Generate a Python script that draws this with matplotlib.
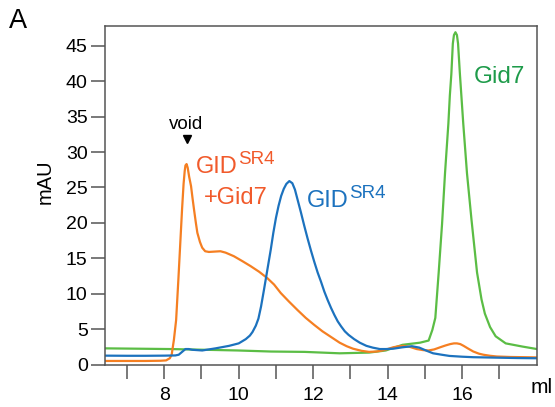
import matplotlib
matplotlib.use("Agg")
import matplotlib.pyplot as plt

plt.rcParams['font.family'] = ['Liberation Sans', 'DejaVu Sans']

# ---- data ----
orange_x = [6.41, 7.0, 7.5, 7.9, 8.05, 8.15, 8.2, 8.26, 8.32, 8.38, 8.43, 8.48, 8.52, 8.55, 8.57,
            8.6, 8.63, 8.67, 8.72, 8.76, 8.8, 8.85, 8.89, 8.96, 9.02, 9.1, 9.2, 9.35, 9.51, 9.65,
            9.87, 10.1, 10.32, 10.55, 10.77, 10.95, 11.13, 11.35, 11.58, 11.8, 12.03, 12.25, 12.48,
            12.71, 12.9, 13.07, 13.3, 13.5, 13.7, 13.86, 14.0, 14.15, 14.3, 14.42, 14.6, 14.78,
            14.95, 15.1, 15.25, 15.41, 15.55, 15.68, 15.78, 15.86, 15.95, 16.04, 16.15, 16.3,
            16.45, 16.57, 16.75, 16.93, 17.3, 17.7, 18.01]
orange_y = [0.52, 0.52, 0.52, 0.55, 0.6, 0.9, 1.4, 3.5, 6.3, 12.0, 17.0, 22.0, 25.5, 27.3, 28.1,
            28.3, 27.8, 26.5, 25.2, 23.5, 21.9, 20.0, 18.6, 17.3, 16.5, 16.0, 15.9, 15.95, 16.0, 15.8,
            15.3, 14.6, 13.9, 13.1, 12.2, 11.3, 10.1, 8.9, 7.7, 6.6, 5.6, 4.7, 3.9,
            3.1, 2.6, 2.25, 1.95, 1.8, 1.85, 2.0, 2.2, 2.45, 2.6, 2.65, 2.5, 2.2,
            2.05, 2.0, 2.15, 2.45, 2.7, 2.9, 3.0, 3.0, 2.9, 2.65, 2.3, 1.85,
            1.55, 1.4, 1.25, 1.15, 1.08, 1.05, 1.02]

blue_x = [6.41, 7.0, 7.5, 8.0, 8.3, 8.39, 8.48, 8.57, 8.66, 8.75, 9.02, 9.38, 9.74, 10.0, 10.19,
          10.3, 10.37, 10.46, 10.53, 10.6, 10.68, 10.77, 10.86, 10.93, 11.0, 11.07, 11.14, 11.21,
          11.28, 11.36, 11.44, 11.51, 11.58, 11.67, 11.76, 11.85, 11.94, 12.03, 12.12, 12.21,
          12.3, 12.39, 12.48, 12.57, 12.66, 12.75, 12.85, 12.95, 13.1, 13.25, 13.43, 13.6, 13.79,
          13.95, 14.15, 14.4, 14.65, 14.85, 15.05, 15.22, 15.45, 15.66, 16.0, 16.3, 17.0, 17.5,
          18.01]
blue_y = [1.27, 1.25, 1.25, 1.27, 1.3, 1.4, 1.8, 2.2, 2.2, 2.1, 2.0, 2.3, 2.65, 3.0, 3.6,
          4.1, 4.6, 5.5, 6.5, 8.2, 10.6, 13.4, 16.2, 18.6, 20.7, 22.4, 23.8, 24.8,
          25.5, 25.9, 25.6, 24.7, 23.3, 21.5, 19.6, 17.8, 16.1, 14.5, 13.0, 11.7,
          10.3, 9.1, 8.0, 7.0, 6.1, 5.4, 4.7, 4.2, 3.6, 3.1, 2.65, 2.4, 2.2,
          2.2, 2.25, 2.45, 2.6, 2.4, 1.95, 1.6, 1.4, 1.23, 1.12, 1.05, 0.98, 0.93,
          0.9]

green_x = [6.41, 8.17, 9.07, 9.97, 10.87, 11.77, 12.71, 13.5, 13.95, 14.4, 14.87, 15.1, 15.2,
           15.28, 15.37, 15.46, 15.54, 15.63, 15.67, 15.71, 15.75, 15.78, 15.82, 15.86, 15.89,
           15.94, 16.03, 16.13, 16.25, 16.4, 16.52, 16.61, 16.75, 16.9, 17.17, 17.62, 18.01]
green_y = [2.3, 2.2, 2.1, 2.0, 1.85, 1.8, 1.6, 1.7, 2.0, 2.8, 3.1, 3.4, 4.9,
           6.6, 13.0, 19.8, 27.0, 34.0, 38.0, 41.0, 45.3, 46.5, 46.9, 46.5, 45.3,
           41.0, 34.0, 27.0, 20.5, 13.0, 9.2, 7.2, 5.3, 4.0, 3.0, 2.55, 2.2]

x_major = [8, 10, 12, 14, 16]
x_minor = [7, 9, 11, 13, 15, 17]
y_ticks = [0, 5, 10, 15, 20, 25, 30, 35, 40, 45]

ORANGE_LINE = '#F57F22'
ORANGE_TEXT = '#F15A2B'
BLUE = '#1C72BE'
GREEN_LINE = '#5BBD45'
GREEN_TEXT = '#1E9B4A'

W, H = 555, 407
fig = plt.figure(figsize=(W / 100, H / 100), dpi=100)


def fx(px):
    return px / W


def fy(py):
    return 1 - py / H


ax = fig.add_axes([fx(105), fy(365), fx(537) - fx(105), fy(25.5) - fy(365)])

ax.plot(green_x, green_y, color=GREEN_LINE, lw=1.6, solid_joinstyle='round')
ax.plot(orange_x, orange_y, color=ORANGE_LINE, lw=1.6, solid_joinstyle='round')
ax.plot(blue_x, blue_y, color=BLUE, lw=1.6, solid_joinstyle='round')

ax.set_xlim(6.41, 18.01)
ax.set_ylim(-0.05, 47.85)

ax.set_xticks(x_major)
ax.set_xticks(x_minor, minor=True)
ax.set_yticks(y_ticks)
ax.tick_params(axis='both', which='both', direction='out', length=10, width=1.1,
               color='#555555', labelsize=14)
ax.tick_params(axis='x', which='both', pad=6)
ax.tick_params(axis='y', pad=2.5)
for s in ax.spines.values():
    s.set_color('#555555')
    s.set_linewidth(1.1)

# annotations
fig.canvas.draw()
renderer = fig.canvas.get_renderer()


def sup_label(x, y, main, sup, color, size_main, size_sup, raise_px):
    t = ax.text(x, y, main, color=color, fontsize=size_main, ha='left', va='baseline')
    bb = t.get_window_extent(renderer=renderer)
    disp = ax.transData.transform((x, y))
    xs, ys = ax.transData.inverted().transform((bb.x1 + 0.5, disp[1] + raise_px))
    ax.text(xs, ys, sup, color=color, fontsize=size_sup, ha='left', va='baseline')


sup_label(8.84, 27.0, 'GID', 'SR4', ORANGE_TEXT, 17, 13.5, 9)
ax.text(9.06, 22.67, '+Gid7', color=ORANGE_TEXT, fontsize=17, ha='left', va='baseline')
sup_label(11.83, 22.3, 'GID', 'SR4', BLUE, 17, 13.5, 9)
ax.text(16.30, 39.7, 'Gid7', color=GREEN_TEXT, fontsize=17.5, ha='left', va='baseline')
ax.text(8.12, 33.25, 'void', color='black', fontsize=13.5, ha='left', va='baseline')
ax.plot([8.6], [31.8], marker='v', color='black', markersize=6, linestyle='none')

fig.text(fx(530.7), fy(393), 'ml', fontsize=15, ha='left', va='baseline')
fig.text(fx(45), fy(181.5), 'mAU', fontsize=14.5, rotation=90, ha='center', va='center')
fig.text(fx(9), fy(28), 'A', fontsize=19.5, ha='left', va='baseline')

fig.savefig('out.png', dpi=100)
